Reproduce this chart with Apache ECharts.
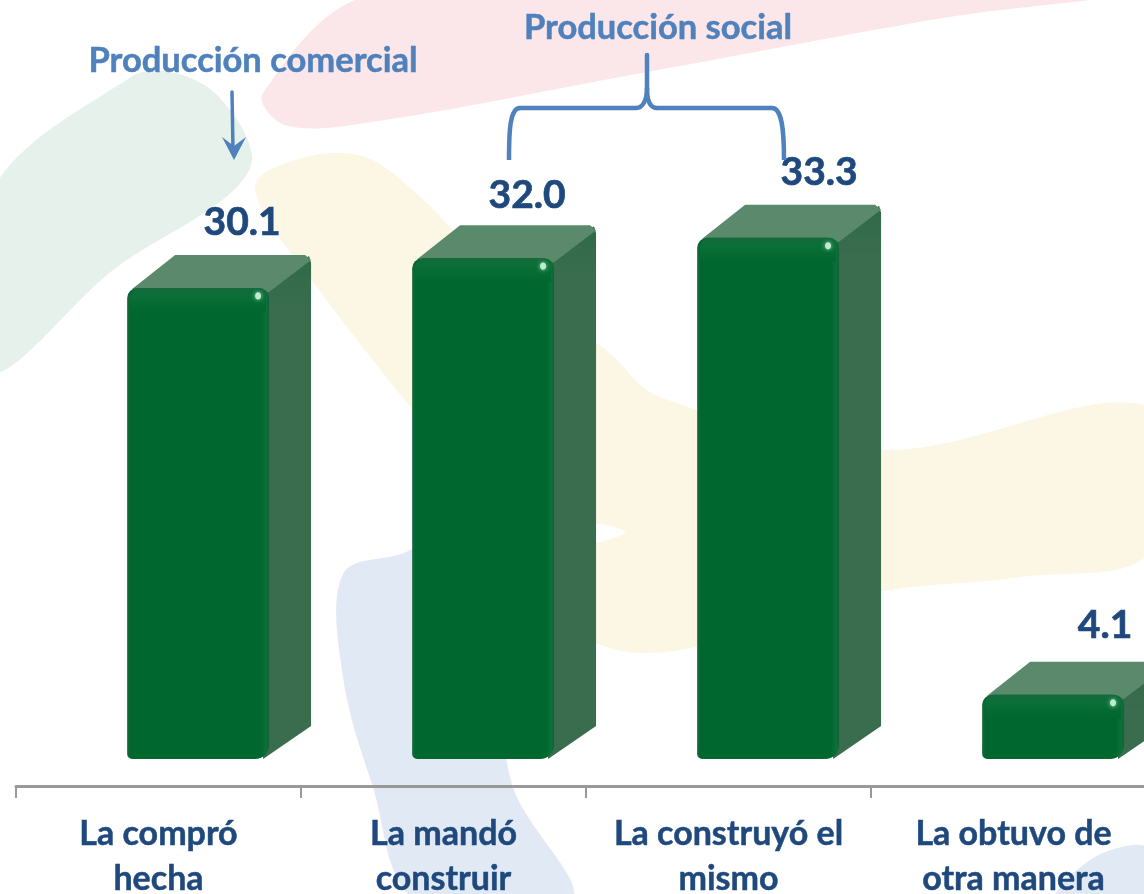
<!DOCTYPE html>
<html>
<head>
<meta charset="utf-8">
<title>Producción de vivienda</title>
<script src="https://cdn.jsdelivr.net/npm/echarts@6/dist/echarts.min.js"></script>
<style>
    html, body { margin: 0; padding: 0; background: #fff; overflow: hidden; }
    #chart { width: 1144px; height: 894px; }
</style>
</head>
<body>
<div id="chart"></div>
<script>
const categories = ["La compró\nhecha", "La mandó\nconstruir", "La construyó el\nmismo", "La obtuvo de\notra manera"];
const values = [30.1, 32.0, 33.3, 4.1];

const FONT = "Lato, 'Noto Sans', sans-serif";
const NAVY = "#1f497d";
const BLUE = "#4f81bd";
const DEPTH_X = 42;
const DEPTH_Y = 33;

// pale logo shapes behind the chart
function blob(points, fill) {
    return { type: "polygon", z: -10, silent: true, shape: { points: points, smooth: 0.35 }, style: { fill: fill } };
}

function seg(x1, y1, x2, y2, width) {
    return { type: "line", z: 20, shape: { x1, y1, x2, y2 }, style: { stroke: BLUE, lineWidth: width, lineCap: "round" } };
}

function curve(x1, y1, cpx1, cpy1, cpx2, cpy2, x2, y2) {
    return { type: "bezierCurve", z: 20, shape: { x1, y1, cpx1, cpy1, cpx2, cpy2, x2, y2 }, style: { fill: null, stroke: BLUE, lineWidth: 4.5 } };
}

function renderBar(params, api) {
    const i = api.value(0);
    const v = api.value(1);
    const band = api.size([1, 0])[0];
    const w = band * 0.498;
    const [cx, top] = api.coord([i, v]);
    const bottom = api.coord([i, 0])[1];
    const x = cx + band * 0.139 - w / 2;
    const h = bottom - top;

    const children = [
        {
            type: "polygon",
            shape: { points: [[x + w - 8, top + 2], [x + w - 8 + DEPTH_X + 6, top - DEPTH_Y + 1], [x + w + DEPTH_X, top - DEPTH_Y + 8], [x + w + DEPTH_X, bottom - DEPTH_Y], [x + w - 6, bottom]] },
            style: {
                fill: {
                    type: "linear", x: 0, y: 0, x2: 0, y2: 1, global: false,
                    colorStops: [{ offset: 0, color: "#2f6a48" }, { offset: Math.min(0.5, 50 / (h + DEPTH_Y)), color: "#3a6c4e" }, { offset: 1, color: "#3a6c4e" }]
                }
            }
        },
        {
            type: "polygon",
            shape: { points: [[x + 5, top + 1], [x + 5 + DEPTH_X + 1, top - DEPTH_Y], [x + w + DEPTH_X - 6, top - DEPTH_Y], [x + w + DEPTH_X, top - DEPTH_Y + 5], [x + w, top + 4]] },
            style: { fill: "#5a896b" }
        },
        {
            type: "rect",
            shape: { x: x, y: top, width: w, height: h, r: [10, 10, 14, 5] },
            style: {
                fill: {
                    type: "linear", x: 0, y: 0, x2: 1, y2: 0,
                    colorStops: [
                        { offset: 0, color: "#16693c" },
                        { offset: 0.025, color: "#00672e" },
                        { offset: 0.94, color: "#00672e" },
                        { offset: 0.98, color: "#0d7039" },
                        { offset: 1, color: "#14603a" }
                    ]
                }
            }
        },
        {
            type: "rect",
            shape: { x: x + 3, y: top, width: w - 6, height: Math.min(24, h), r: [9, 9, 0, 0] },
            style: {
                fill: {
                    type: "linear", x: 0, y: 0, x2: 0, y2: 1,
                    colorStops: [
                        { offset: 0, color: "#14693b" },
                        { offset: 0.35, color: "#0b6f38" },
                        { offset: 0.7, color: "#046a31" },
                        { offset: 1, color: "#00672e" }
                    ]
                }
            }
        },
        {
            type: "ellipse",
            shape: { cx: x + w - 11, cy: top + 8, rx: 3, ry: 3.6 },
            style: { fill: "#bfeccf", shadowBlur: 4, shadowColor: "#8fdcae" }
        }
    ];

    // value labels were moved by hand in the original, so nudge them a bit
    const labelDx = [44, 44, 51, 52][i];
    const labelDy = [66, 63, 65, 69][i];
    children.push({
        type: "text",
        style: {
            text: v.toFixed(1),
            x: x + w / 2 + labelDx,
            y: top - labelDy,
            align: "center",
            verticalAlign: "middle",
            font: "bold 39px " + FONT,
            fill: NAVY,
            stroke: NAVY,
            lineWidth: 0.7
        }
    });
    return { type: "group", children: children };
}

const myChart = echarts.init(document.getElementById("chart"), null, { renderer: "canvas" });

myChart.setOption({
    animation: false,
    backgroundColor: "#ffffff",
    grid: { left: 16, width: 1140, top: 0, height: 786, outerBoundsMode: "none", containLabel: false },
    xAxis: {
        type: "category",
        data: categories,
        axisLine: { onZero: false, lineStyle: { color: "#999999", width: 3 } },
        axisTick: { show: true, length: 12, lineStyle: { color: "#999999", width: 2 } },
        axisLabel: {
            interval: 0,
            margin: 26,
            color: NAVY,
            fontFamily: FONT,
            fontWeight: "bold",
            fontSize: 34,
            lineHeight: 45,
            textBorderColor: NAVY,
            textBorderWidth: 0.5,
            hideOverlap: false
        }
    },
    yAxis: { type: "value", min: -1.725, max: 48.5, show: false },
    series: [
        {
            type: "custom",
            renderItem: renderBar,
            clip: false,
            encode: { x: 0, y: 1 },
            data: values.map((v, i) => [i, v])
        }
    ],
    graphic: {
        elements: [
            blob([[263, 93], [285, 125], [365, 123], [642, 73], [949, 17], [1110, -5], [375, -5]], "#fbe7ea"),
            blob([[-10, 195], [131, 77], [175, 73], [219, 97], [252, 157], [226, 197], [117, 267], [-10, 372]], "#e6f1eb"),
            blob([[255, 187], [306, 157], [365, 157], [416, 193], [474, 250], [606, 350], [660, 397], [883, 450], [1150, 407], [1150, 552], [1022, 577], [883, 591], [606, 647], [445, 450], [314, 283]], "#fcf7e5"),
            blob([[560, 522], [600, 524], [625, 532], [600, 542], [560, 546]], "#ffffff"),
            blob([[343, 574], [401, 554], [480, 530], [511, 781], [572, 900], [416, 900], [372, 784], [343, 677]], "#e1e9f4"),
            blob([[1056, 900], [1095, 857], [1150, 848], [1150, 900]], "#e1e9f4"),
            {
                type: "text", z: 20,
                style: { text: "Producción comercial", x: 253, y: 61, align: "center", verticalAlign: "middle", font: "bold 34.5px " + FONT, fill: BLUE, stroke: BLUE, lineWidth: 0.5 }
            },
            {
                type: "text", z: 20,
                style: { text: "Producción social", x: 658, y: 28, align: "center", verticalAlign: "middle", font: "bold 34.5px " + FONT, fill: BLUE, stroke: BLUE, lineWidth: 0.5 }
            },
            seg(232, 92, 233, 150, 3.5),
            {
                type: "polygon", z: 20,
                shape: { points: [[222, 137], [234, 160], [246, 137], [234, 146]] },
                style: { fill: BLUE }
            },
            curve(509, 160, 509, 130, 510, 108, 520, 108),
            seg(520, 108, 636, 108, 4.5),
            curve(636, 108, 643, 108, 647, 100, 647, 88),
            seg(647, 88, 647, 55, 4.5),
            curve(647, 88, 647, 100, 650, 108, 657, 108),
            seg(657, 108, 772, 108, 4.5),
            curve(772, 108, 782, 108, 784, 130, 784, 160)
        ]
    }
});
</script>
</body>
</html>
